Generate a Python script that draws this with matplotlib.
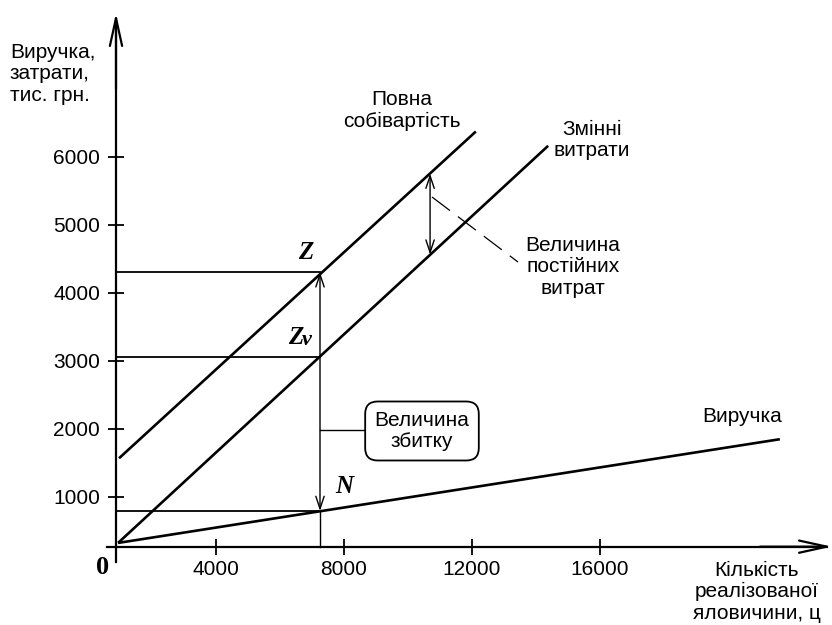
"""Break-even chart: revenue vs. full cost and variable cost (beef sales)."""

import matplotlib

matplotlib.use("Agg")
import matplotlib.pyplot as plt

# ---------------------------------------------------------------------------
# values
ORIGIN_X, ORIGIN_Y = 875, 265          # where the drawn axes cross

full_cost_x = [970, 12120]
full_cost_y = [1565, 6370]
var_cost_x = [940, 14380]
var_cost_y = [320, 6160]
revenue_x = [940, 21620]
revenue_y = [320, 1845]

q_point = 7250                         # volume at Z / Zv / N
z_level = 4300
zv_level = 3054
n_level = 790

fixed_q = 10690                        # where the fixed-cost gap is marked
fixed_top = 5750
fixed_bottom = 4560

x_ticks = [4000, 8000, 12000, 16000]
y_ticks = [1000, 2000, 3000, 4000, 5000, 6000]

SANS = ["Liberation Sans", "DejaVu Sans"]
SERIF = ["Liberation Serif", "DejaVu Serif"]
FS = 15

plt.rcParams["font.family"] = SANS

fig = plt.figure(figsize=(8.32, 6.25), dpi=100)
ax = fig.add_axes([0, 0, 1, 1])
ax.set_xlim(-2750, 23250)
ax.set_ylim(-887, 8304)

# axes ---------------------------------------------------------------------
for side in ("top", "right"):
    ax.spines[side].set_visible(False)
ax.spines["left"].set_position(("data", ORIGIN_X))
ax.spines["bottom"].set_position(("data", ORIGIN_Y))
ax.spines["left"].set_bounds(40, 8000)
ax.spines["bottom"].set_bounds(594, 23100)
for side in ("left", "bottom"):
    ax.spines[side].set_linewidth(1.6)

ax.set_xticks(x_ticks)
ax.set_yticks(y_ticks)
ax.tick_params(direction="inout", length=11, width=1.3, labelsize=FS)
ax.tick_params(axis="y", pad=6)
ax.tick_params(axis="x", pad=4)

arrow_axis = dict(arrowstyle="->, head_length=1.0, head_width=0.22",
                  lw=1.6, color="black", mutation_scale=20,
                  shrinkA=0, shrinkB=0)
ax.annotate("", xy=(ORIGIN_X, 8113), xytext=(ORIGIN_X, 7000), arrowprops=arrow_axis)
ax.annotate("", xy=(23250, ORIGIN_Y), xytext=(21000, ORIGIN_Y), arrowprops=arrow_axis)

# main lines ---------------------------------------------------------------
ax.plot(full_cost_x, full_cost_y, color="black", lw=1.9, solid_capstyle="butt")
ax.plot(var_cost_x, var_cost_y, color="black", lw=1.9, solid_capstyle="butt")
ax.plot(revenue_x, revenue_y, color="black", lw=1.9, solid_capstyle="butt")

# guide lines to the y axis
for level in (z_level, zv_level, n_level):
    ax.plot([ORIGIN_X, q_point], [level, level], color="black", lw=1.3)

# vertical from the x axis to N, arrow between N and Z
ax.plot([q_point, q_point], [ORIGIN_Y, n_level], color="black", lw=1.0)
arrow_small = dict(arrowstyle="<->, head_length=0.6, head_width=0.2",
                   lw=1.0, color="black", mutation_scale=15,
                   shrinkA=0, shrinkB=0)
ax.annotate("", xy=(q_point, z_level), xytext=(q_point, n_level), arrowprops=arrow_small)
ax.annotate("", xy=(fixed_q, fixed_top), xytext=(fixed_q, fixed_bottom), arrowprops=arrow_small)

# dashed leader to the fixed-cost label
ax.plot([10750, 13437], [5407, 4451], color="black", lw=0.9, linestyle=(0, (18, 8)))

# leader to the loss box
ax.plot([q_point, 8650], [1981, 1981], color="black", lw=1.0)

# texts --------------------------------------------------------------------
ax.text(-2437, 7216, "Виручка,\nзатрати,\nтис. грн.", fontsize=FS,
        ha="left", va="center", linespacing=1.15)
ax.text(20906, -401, "Кількість\nреалізованої\nяловичини, ц", fontsize=FS,
        ha="center", va="center", linespacing=1.15)
ax.text(9812, 6680, "Повна\nсобівартість", fontsize=FS,
        ha="center", va="center", linespacing=1.15)
ax.text(15750, 6246, "Змінні\nвитрати", fontsize=FS,
        ha="center", va="center", linespacing=1.15)
ax.text(15156, 4378, "Величина\nпостійних\nвитрат", fontsize=FS,
        ha="center", va="center", linespacing=1.15)
ax.text(19187, 2172, "Виручка", fontsize=FS, ha="left", va="center")
ax.text(10437, 1966, "Величина\nзбитку", fontsize=FS, ha="center", va="center",
        linespacing=1.15,
        bbox=dict(boxstyle="round,pad=0.45,rounding_size=0.6",
                  fc="white", ec="black", lw=1.3))

ax.text(469, -35, "0", family=SERIF, fontweight="bold", fontsize=19,
        ha="center", va="center")
ax.text(6812, 4597, "Z", family=SERIF, fontweight="bold", fontstyle="italic",
        fontsize=18, ha="center", va="center")
ax.text(6484, 3348, "Z", family=SERIF, fontweight="bold", fontstyle="italic",
        fontsize=18, ha="center", va="center")
ax.text(6844, 3304, "v", family=SERIF, fontweight="bold", fontstyle="italic",
        fontsize=16, ha="center", va="center")
ax.text(8000, 1157, "N", family=SERIF, fontweight="bold", fontstyle="italic",
        fontsize=18, ha="center", va="center")

fig.savefig("out.png", dpi=100)
